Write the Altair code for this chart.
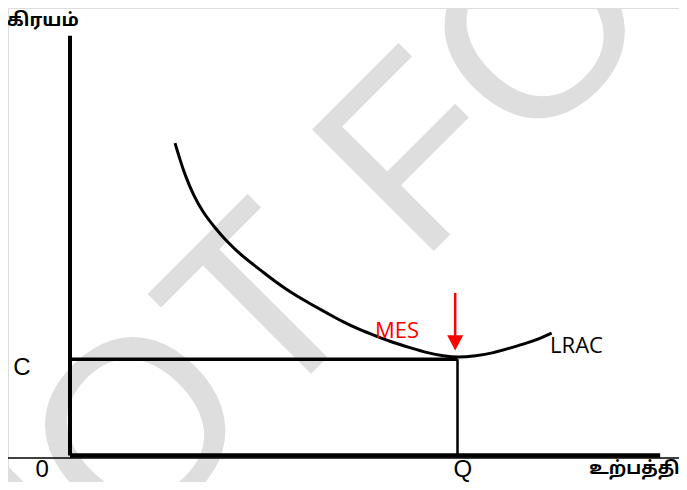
import altair as alt
import pandas as pd

# ---- data ----
# LRAC curve: output (x) and long-run average cost (y)
lrac_q = [2.71, 2.84, 2.97, 3.18, 3.44, 3.75, 4.06, 4.47, 4.91, 5.35, 5.76, 6.20, 6.64, 7.05,
          7.49, 7.91, 8.35, 8.79, 9.23, 9.64, 10.0, 10.47, 10.93, 11.37, 11.81, 12.15, 12.43]
lrac_c = [8.01, 7.58, 7.19, 6.68, 6.22, 5.83, 5.47, 5.09, 4.76, 4.42, 4.14, 3.89, 3.65, 3.42,
          3.22, 3.06, 2.89, 2.76, 2.63, 2.55, 2.51, 2.55, 2.63, 2.76, 2.89, 3.01, 3.14]

C_LEVEL = 2.47      # minimum average cost C
Q_LEVEL = 10.0      # minimum efficient scale output Q
Y_TOP = 10.76       # top of the cost axis
X_END = 15.23       # end of the output axis
BASE_Y = -0.064     # thin base line
BASE_X = [-1.81, 15.92]

arrow_x = 9.94
arrow_top = 4.17
arrow_bottom = 3.05
arrow_head = 2.89

labels_black = ["C", "0", "Q"]
labels_black_x = [-1.24, -0.72, 10.14]
labels_black_y = [2.06, -0.55, -0.55]

title_y_text = "கிரயம்"
title_y_pos = (-1.63, 11.01)
title_x_text = "உற்பத்தி"
title_x_pos = (13.40, -0.47)

mes_text = "MES"
mes_pos = (7.87, 3.01)
lrac_text = "LRAC"
lrac_pos = (12.39, 2.64)

watermark_text = "NOT FOR"
watermark_pos = (7.05, 5.64)

X_DOMAIN = [-1.6, 15.716]
Y_DOMAIN = [-0.679, 11.474]

xs = alt.Scale(domain=X_DOMAIN, nice=False, zero=False)
ys = alt.Scale(domain=Y_DOMAIN, nice=False, zero=False)


def X(f):
    return alt.X(f, type="quantitative", scale=xs, axis=None)


def Y(f):
    return alt.Y(f, type="quantitative", scale=ys, axis=None)


# watermark
wm = alt.Chart(pd.DataFrame({"x": [watermark_pos[0]], "y": [watermark_pos[1]], "t": [watermark_text]})).mark_text(
    angle=315, fontSize=250, font="Liberation Sans", color="#DEDEDE",
    align="center", baseline="middle"
).encode(x=X("x"), y=Y("y"), text="t:N")

# axes
y_axis = alt.Chart(pd.DataFrame({"x": [0.0], "y": [0.0], "y2": [Y_TOP]})).mark_rule(
    color="black", strokeWidth=4
).encode(x=X("x"), y=Y("y"), y2="y2:Q")

x_axis = alt.Chart(pd.DataFrame({"x": [0.0], "x2": [X_END], "y": [0.0]})).mark_rule(
    color="black", strokeWidth=4.5
).encode(x=X("x"), x2="x2:Q", y=Y("y"))

base = alt.Chart(pd.DataFrame({"x": [BASE_X[0]], "x2": [BASE_X[1]], "y": [BASE_Y]})).mark_rule(
    color="black", strokeWidth=1.5
).encode(x=X("x"), x2="x2:Q", y=Y("y"))

c_line = alt.Chart(pd.DataFrame({"x": [0.0], "x2": [Q_LEVEL], "y": [C_LEVEL]})).mark_rule(
    color="black", strokeWidth=3.5
).encode(x=X("x"), x2="x2:Q", y=Y("y"))

q_line = alt.Chart(pd.DataFrame({"x": [Q_LEVEL], "y": [0.0], "y2": [C_LEVEL]})).mark_rule(
    color="black", strokeWidth=2.5
).encode(x=X("x"), y=Y("y"), y2="y2:Q")

# LRAC curve
curve = alt.Chart(pd.DataFrame({"q": lrac_q, "c": lrac_c})).mark_line(
    color="black", strokeWidth=3, interpolate="basis"
).encode(x=X("q"), y=Y("c"), order=alt.Order("q:Q"))

# red arrow
arrow_shaft = alt.Chart(pd.DataFrame({"x": [arrow_x], "y": [arrow_top], "y2": [arrow_bottom]})).mark_rule(
    color="#FF0000", strokeWidth=2.5
).encode(x=X("x"), y=Y("y"), y2="y2:Q")

arrow_tip = alt.Chart(pd.DataFrame({"x": [arrow_x], "y": [arrow_head]})).mark_point(
    shape="M-1,-0.95L1,-0.95L0,0.95Z", size=256, filled=True, color="#FF0000", opacity=1
).encode(x=X("x"), y=Y("y"))

# labels
black_labels = alt.Chart(pd.DataFrame({"x": labels_black_x, "y": labels_black_y, "t": labels_black})).mark_text(
    font="Liberation Sans", fontSize=24, color="black", align="center", baseline="alphabetic"
).encode(x=X("x"), y=Y("y"), text="t:N")

tamil_y = alt.Chart(pd.DataFrame({"x": [title_y_pos[0]], "y": [title_y_pos[1]], "t": [title_y_text]})).mark_text(
    font="Noto Sans Tamil", fontWeight="bold", fontSize=18.5, color="black", align="left", baseline="alphabetic"
).encode(x=X("x"), y=Y("y"), text="t:N")

tamil_x = alt.Chart(pd.DataFrame({"x": [title_x_pos[0]], "y": [title_x_pos[1]], "t": [title_x_text]})).mark_text(
    font="Noto Sans Tamil", fontWeight="bold", fontSize=18, color="black", align="left", baseline="alphabetic"
).encode(x=X("x"), y=Y("y"), text="t:N")

mes = alt.Chart(pd.DataFrame({"x": [mes_pos[0]], "y": [mes_pos[1]], "t": [mes_text]})).mark_text(
    font="Open Sans", fontSize=22, color="#FF0000", align="left", baseline="alphabetic"
).encode(x=X("x"), y=Y("y"), text="t:N")

lrac = alt.Chart(pd.DataFrame({"x": [lrac_pos[0]], "y": [lrac_pos[1]], "t": [lrac_text]})).mark_text(
    font="Open Sans", fontSize=22, color="black", align="left", baseline="alphabetic"
).encode(x=X("x"), y=Y("y"), text="t:N")

chart = alt.layer(
    wm, base, x_axis, y_axis, c_line, q_line, curve, arrow_shaft, arrow_tip,
    black_labels, tamil_y, tamil_x, mes, lrac
).properties(
    width=671, height=474, padding=0, autosize=alt.AutoSizeParams(type="none")
).configure_view(stroke=None).configure(background="white")

chart.save("out.html", embed_options={"renderer": "svg", "actions": False})
